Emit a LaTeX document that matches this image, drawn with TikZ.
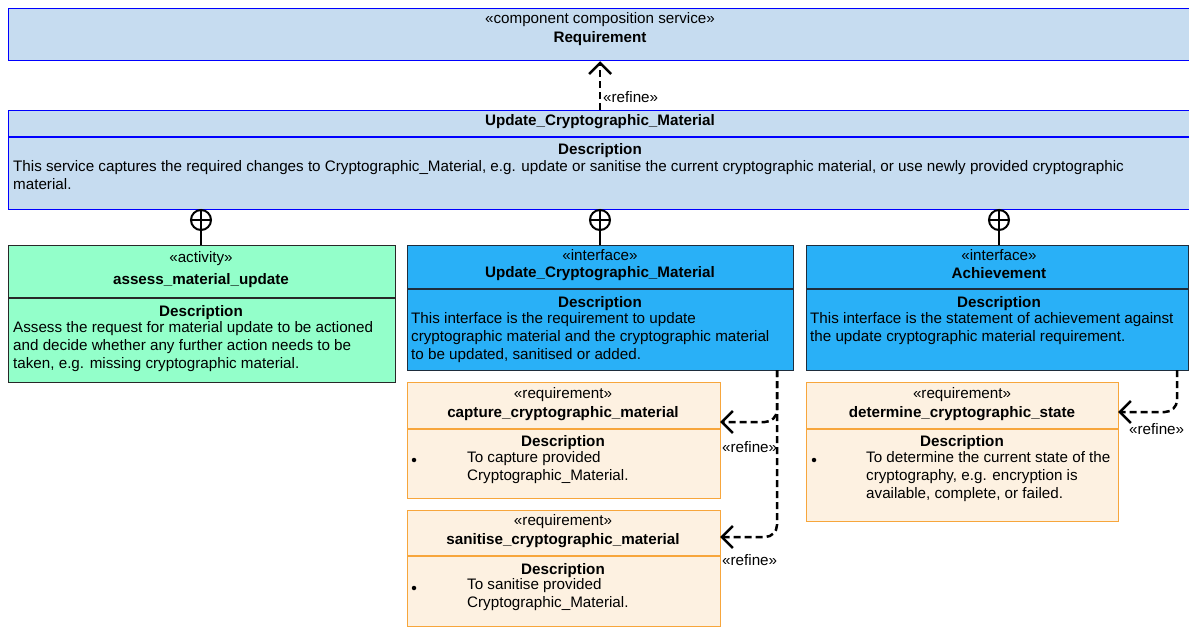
\documentclass[tikz,border=0pt]{standalone}
\usepackage{fontspec}
\setmainfont{Liberation Sans}
\usetikzlibrary{positioning}
\usetikzlibrary{arrows.meta}
\definecolor{svcfill}{RGB}{198,220,240}
\definecolor{actfill}{RGB}{147,255,202}
\definecolor{actline}{RGB}{40,40,40}
\definecolor{ifcfill}{RGB}{41,176,247}
\definecolor{ifcline}{RGB}{30,45,60}
\definecolor{reqfill}{RGB}{253,241,225}
\definecolor{reqline}{RGB}{247,166,60}
\tikzset{
  box/.style={anchor=north west, inner sep=0pt, line width=1.2pt},
  svcbox/.style={box, fill=svcfill, draw=blue},
  actbox/.style={box, fill=actfill, draw=actline},
  ifcbox/.style={box, fill=ifcfill, draw=ifcline},
  reqbox/.style={box, fill=reqfill, draw=reqline},
  txt/.style={inner sep=0pt, yshift=-1.5pt, font=\fontsize{15.2}{18}\selectfont},
  ttl/.style={inner sep=0pt, yshift=-1.5pt, font=\fontsize{15.2}{18}\selectfont\bfseries},
  desc/.style={txt, anchor=north west, align=left},
  bullet/.style={circle, fill, inner sep=0pt, minimum size=4.5pt},
  nest/.style={circle, draw, line width=2pt, minimum size=20pt, inner sep=0pt},
  refine/.style={line width=2.5pt, dash pattern=on 7pt off 4pt, rounded corners=12pt,
    -{Straight Barb[scale=1.7]}},
}

\begin{document}
\begin{tikzpicture}[x=1pt,y=-1pt]
        \useasboundingbox (0,0) rectangle (1189,628);

        % the service being refined
        \node[svcbox, minimum width=1183pt, minimum height=52pt] (req) at (8,8) {};
        \node[txt] (reqst) at (600,18) {«component composition service»};
        \node[ttl] (reqnm) at (600,37) {Requirement};

        \node[svcbox, minimum width=1183pt, minimum height=99pt] (upd) at (8,110) {};
        \draw[blue, line width=1.2pt] (upd.west |- 0,137) -- (upd.east |- 0,137);
        \node[ttl] (updnm) at (600,120) {Update\_Cryptographic\_Material};
        \node[ttl] (upddh) at (600,149) {Description};
        \node[desc] (upddt) at (13,159) {This service captures the required changes to Cryptographic\_Material, e.g. update or sanitise the current cryptographic material, or use newly provided cryptographic\\material.};

        \draw[refine] (upd.north) -- (req.south);
        \node[txt, anchor=west] (lbl0) at (603,96) {«refine»};

        % activity
        \node[actbox, minimum width=387pt, minimum height=137pt] (act) at (8,245) {};
        \draw[actline, line width=1.2pt] (act.west |- 0,298) -- (act.east |- 0,298);
        \node[txt] (actst) at (201,257) {«activity»};
        \node[ttl] (actnm) at (201,279) {assess\_material\_update};
        \node[ttl] (actdh) at (201,311) {Description};
        \node[desc] (actdt) at (13,320) {Assess the request for material update to be actioned\\and decide whether any further action needs to be\\taken, e.g. missing cryptographic material.};

        % interfaces
        \node[ifcbox, minimum width=386pt, minimum height=125pt] (ifa) at (407,245) {};
        \draw[ifcline, line width=1.2pt] (ifa.west |- 0,289) -- (ifa.east |- 0,289);
        \node[txt] (ifast) at (600,254) {«interface»};
        \node[ttl] (ifanm) at (600,272) {Update\_Cryptographic\_Material};
        \node[ttl] (ifadh) at (600,302) {Description};
        \node[desc] (ifadt) at (411,311) {This interface is the requirement to update\\cryptographic material and the cryptographic material\\to be updated, sanitised or added.};

        \node[ifcbox, minimum width=382pt, minimum height=125pt] (ifb) at (806,245) {};
        \draw[ifcline, line width=1.2pt] (ifb.west |- 0,289) -- (ifb.east |- 0,289);
        \node[txt] (ifbst) at (999,254) {«interface»};
        \node[ttl] (ifbnm) at (999,272) {Achievement};
        \node[ttl] (ifbdh) at (999,302) {Description};
        \node[desc] (ifbdt) at (810,311) {This interface is the statement of achievement against\\the update cryptographic material requirement.};

        % nesting connectors
        \node[nest] (n1) at (201,220) {};
        \node[nest] (n2) at (600,220) {};
        \node[nest] (n3) at (999,220) {};
        \foreach \n/\b in {n1/act, n2/ifa, n3/ifb}{
                \draw[line width=2pt] (\n.north) -- (\n.south);
                \draw[line width=2pt] (\n.west) -- (\n.east);
                \draw[line width=2pt] (\n.south) -- (\n.south |- \b.north);
        }

        % requirements
        \node[reqbox, minimum width=313pt, minimum height=116pt] (cap) at (407,382) {};
        \draw[reqline, line width=1.2pt] (cap.west |- 0,429) -- (cap.east |- 0,429);
        \node[txt] (capst) at (563,393) {«requirement»};
        \node[ttl] (capnm) at (563,412) {capture\_cryptographic\_material};
        \node[ttl] (capdh) at (563,441) {Description};
        \node[bullet] (capbl) at (414,460) {};
        \node[desc] (capdt) at (467,450) {To capture provided\\Cryptographic\_Material.};

        \node[reqbox, minimum width=313pt, minimum height=116pt] (san) at (407,510) {};
        \draw[reqline, line width=1.2pt] (san.west |- 0,556) -- (san.east |- 0,556);
        \node[txt] (sanst) at (563,520) {«requirement»};
        \node[ttl] (sannm) at (563,539) {sanitise\_cryptographic\_material};
        \node[ttl] (sandh) at (563,569) {Description};
        \node[bullet] (sanbl) at (414,588) {};
        \node[desc] (sandt) at (467,577) {To sanitise provided\\Cryptographic\_Material.};

        \node[reqbox, minimum width=312pt, minimum height=139pt] (det) at (806,382) {};
        \draw[reqline, line width=1.2pt] (det.west |- 0,429) -- (det.east |- 0,429);
        \node[txt] (detst) at (962,393) {«requirement»};
        \node[ttl] (detnm) at (962,412) {determine\_cryptographic\_state};
        \node[ttl] (detdh) at (962,441) {Description};
        \node[bullet] (detbl) at (814,460) {};
        \node[desc] (detdt) at (866,450) {To determine the current state of the\\cryptography, e.g. encryption is\\available, complete, or failed.};

        % refine dependencies
        \coordinate (ra) at (777,370);
        \coordinate (rb) at (1177,370);
        \coordinate (capin) at (720,422);
        \coordinate (sanin) at (720,537);
        \coordinate (detin) at (1118,412);
        \draw[refine] (ra) |- (capin);
        \draw[refine] (ra) |- (sanin);
        \draw[refine] (rb) |- (detin);
        \node[txt, anchor=west] (lbl1) at (722,446) {«refine»};
        \node[txt, anchor=west] (lbl2) at (722,559) {«refine»};
        \node[txt, anchor=west] (lbl3) at (1129,428) {«refine»};

\end{tikzpicture}
\end{document}
